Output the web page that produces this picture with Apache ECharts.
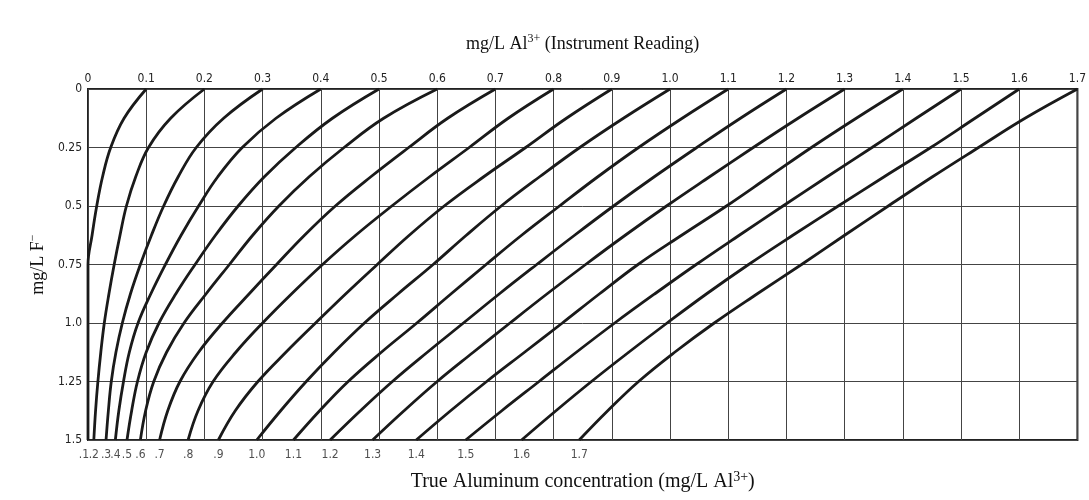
<!DOCTYPE html>
<html>
<head>
<meta charset="utf-8">
<script src="https://cdn.jsdelivr.net/npm/echarts@6/dist/echarts.min.js"></script>
<style>
html,body{margin:0;padding:0;background:#fff;}
#chart{width:1089px;height:500px;}
</style>
</head>
<body>
<div id="chart"></div>
<script>
// Fluoride levels (mg/L F-) at which readings were taken along each curve
const fLevels = [0, 0.125, 0.25, 0.375, 0.5, 0.625, 0.75, 0.875, 1.0, 1.125, 1.25, 1.375, 1.5];
// Curve names = true aluminum concentration (mg/L Al3+)
const curveNames = ['.1','.2','.3','.4','.5','.6','.7','.8','.9','1.0','1.1','1.2','1.3','1.4','1.5','1.6','1.7'];
// Instrument readings (mg/L Al3+) at each fluoride level, one array per curve
const c01 = [0.100, 0.062, 0.039, 0.025, 0.015, 0.007, 0.000, 0.000, 0.000, 0.000, 0.000, 0.000, 0.000];
const c02 = [0.200, 0.142, 0.104, 0.082, 0.066, 0.055, 0.045, 0.036, 0.028, 0.022, 0.017, 0.013, 0.010];
const c03 = [0.300, 0.233, 0.186, 0.155, 0.130, 0.109, 0.090, 0.073, 0.059, 0.048, 0.040, 0.035, 0.031];
const c04 = [0.400, 0.323, 0.265, 0.223, 0.190, 0.160, 0.133, 0.108, 0.086, 0.071, 0.061, 0.053, 0.047];
const c05 = [0.500, 0.420, 0.357, 0.303, 0.258, 0.219, 0.184, 0.151, 0.122, 0.100, 0.085, 0.075, 0.067];
const c06 = [0.600, 0.508, 0.440, 0.380, 0.328, 0.283, 0.243, 0.203, 0.165, 0.135, 0.113, 0.099, 0.090];
const c07 = [0.700, 0.618, 0.551, 0.486, 0.425, 0.372, 0.324, 0.277, 0.231, 0.190, 0.158, 0.137, 0.123];
const c08 = [0.800, 0.722, 0.655, 0.587, 0.522, 0.460, 0.403, 0.350, 0.300, 0.254, 0.215, 0.189, 0.172];
const c09 = [0.900, 0.822, 0.752, 0.680, 0.612, 0.552, 0.497, 0.443, 0.391, 0.340, 0.292, 0.253, 0.224];
const c10 = [1.000, 0.920, 0.845, 0.776, 0.710, 0.650, 0.593, 0.533, 0.475, 0.423, 0.375, 0.331, 0.290];
const c11 = [1.100, 1.021, 0.946, 0.876, 0.810, 0.745, 0.684, 0.624, 0.565, 0.504, 0.447, 0.398, 0.353];
const c12 = [1.200, 1.121, 1.046, 0.973, 0.903, 0.836, 0.771, 0.707, 0.645, 0.583, 0.523, 0.468, 0.416];
const c13 = [1.300, 1.220, 1.143, 1.068, 0.994, 0.923, 0.855, 0.789, 0.725, 0.662, 0.600, 0.543, 0.489];
const c14 = [1.400, 1.320, 1.243, 1.170, 1.097, 1.020, 0.945, 0.879, 0.815, 0.750, 0.685, 0.623, 0.564];
const c15 = [1.500, 1.423, 1.347, 1.270, 1.194, 1.119, 1.045, 0.974, 0.905, 0.839, 0.775, 0.711, 0.649];
const c16 = [1.600, 1.524, 1.448, 1.368, 1.289, 1.211, 1.135, 1.063, 0.995, 0.929, 0.865, 0.804, 0.745];
const c17 = [1.700, 1.610, 1.530, 1.451, 1.375, 1.300, 1.226, 1.150, 1.076, 1.008, 0.946, 0.893, 0.844];
const curves = [c01,c02,c03,c04,c05,c06,c07,c08,c09,c10,c11,c12,c13,c14,c15,c16,c17];
// Tick labels
const xTickLabels = ['0','0.1','0.2','0.3','0.4','0.5','0.6','0.7','0.8','0.9','1.0','1.1','1.2','1.3','1.4','1.5','1.6','1.7'];
const yTickLabels = ['0','0.25','0.5','0.75','1.0','1.25','1.5'];

const tickFont = "'Liberation Sans Narrow','DejaVu Sans Condensed','Liberation Sans',sans-serif";
const serif = "'Liberation Serif','DejaVu Serif',serif";
const fMax = fLevels[fLevels.length - 1];

const nameRich = (size) => ({
  n: {fontFamily: serif, fontSize: size, color: '#111', verticalAlign: 'bottom'},
  s: {fontFamily: serif, fontSize: Math.round(size * 0.68), color: '#111', verticalAlign: 'bottom', padding: [0, 0, Math.round(size * 0.42), 0]}
});

const lineSeries = curves.map((c, k) => ({
  name: curveNames[k], type: 'line', xAxisIndex: 0,
  data: fLevels.map((f, i) => [c[i], f]),
  showSymbol: false, smooth: 0.4, clip: true, silent: true,
  lineStyle: {color: '#1a1a1a', width: 2.8}, z: 3
}));

// End-of-curve labels along the bottom (true concentration)
const endLabels = {
  type: 'scatter', xAxisIndex: 0, symbolSize: 0, silent: true,
  data: curves.map((c, k) => ({
    value: [c[c.length - 1], fMax],
    label: {offset: [k === 0 ? -4 : 0, 0]}
  })),
  label: {show: true, position: 'bottom', distance: 9, fontFamily: tickFont, fontSize: 12, color: '#222',
    formatter: p => curveNames[p.dataIndex]},
  clip: false, z: 4
};

const chart = echarts.init(document.getElementById('chart'), null, {renderer: 'canvas'});
chart.setOption({
  animation: false,
  backgroundColor: '#fff',
  grid: {left: 88, right: 9, top: 89, bottom: 60, show: true, borderColor: '#222', borderWidth: 2, backgroundColor: 'transparent'},
  xAxis: [{
    type: 'value', position: 'top', min: 0, max: 1.7, interval: 0.1,
    axisLine: {show: false}, axisTick: {show: false},
    axisLabel: {margin: 4, fontFamily: tickFont, fontSize: 12, color: '#222',
      formatter: v => xTickLabels[Math.round(v * 10)]},
    splitLine: {show: true, lineStyle: {color: '#444', width: 1}},
    name: '{n|mg/L Al}{s|3+}{n| (Instrument Reading)}',
    nameLocation: 'middle', nameGap: 36,
    nameTextStyle: {rich: nameRich(18)}
  }, {
    type: 'value', position: 'bottom', min: 0, max: 1.7,
    axisLine: {show: false}, axisTick: {show: false}, splitLine: {show: false},
    axisLabel: {show: false},
    name: '{n|True Aluminum concentration (mg/L Al}{s|3+}{n|)}',
    nameLocation: 'middle', nameGap: 30,
    nameTextStyle: {rich: nameRich(20)}
  }],
  yAxis: {
    type: 'value', inverse: true, min: 0, max: 1.5, interval: 0.25,
    axisLine: {show: false}, axisTick: {show: false},
    axisLabel: {margin: 6, fontFamily: tickFont, fontSize: 12, color: '#222',
      formatter: v => yTickLabels[Math.round(v * 4)]},
    splitLine: {show: true, lineStyle: {color: '#444', width: 1}},
    name: '{n|mg/L F}{s|\u2212}',
    nameLocation: 'middle', nameGap: 38, nameRotate: 90,
    nameTextStyle: {rich: nameRich(18)}
  },
  series: lineSeries.concat([endLabels])
});
</script>
</body>
</html>
